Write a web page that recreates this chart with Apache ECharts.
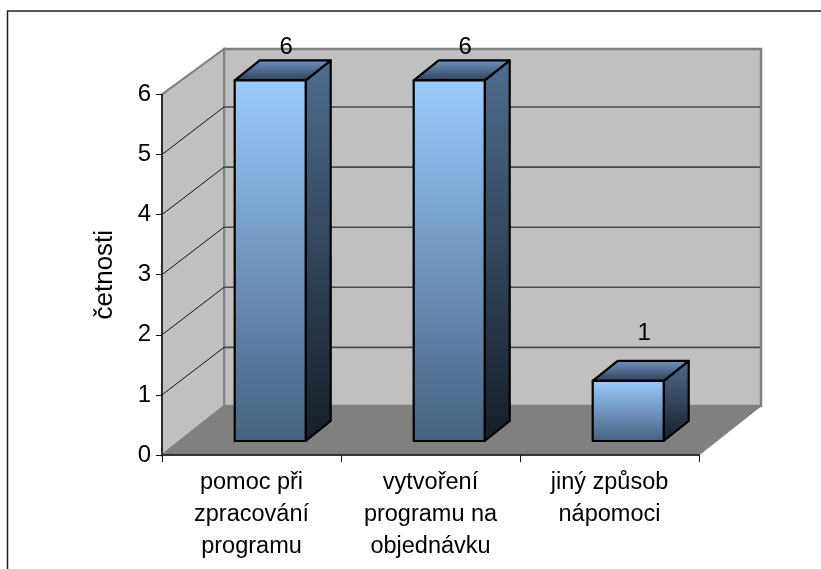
<!DOCTYPE html>
<html>
<head>
<meta charset="utf-8">
<script src="https://cdn.jsdelivr.net/npm/echarts@6/dist/echarts.min.js"></script>
<style>html,body{margin:0;padding:0;background:#fff}#c{width:821px;height:569px}</style>
</head>
<body>
<div id="c"></div>
<script>
const categories = ['pomoc při\nzpracování\nprogramu', 'vytvoření\nprogramu na\nobjednávku', 'jiný způsob\nnápomoci'];
const values = [6, 6, 1];
const gridValues = [1, 2, 3, 4, 5];
const axisTitle = 'četnosti';

const FONT = '"Liberation Sans", Arial, sans-serif';
const FS = 24;
const G = echarts.graphic;
const chart = echarts.init(document.getElementById('c'), null, {renderer: 'canvas'});

function grad(a, b) {
  return new G.LinearGradient(0, 0, 0, 1, [{offset: 0, color: a}, {offset: 1, color: b}]);
}

function poly(points, style) {
  return {type: 'polygon', shape: {points: points}, style: style};
}

function renderWalls(params, api) {
  const cs = params.coordSys;
  const l = cs.x, r = cs.x + cs.width, t = cs.y, b = cs.y + cs.height;
  const dx = 62, dt = 45.5, db = 49;
  return {type: 'group', children: [
    poly([[l + dx, t - dt], [r + dx, t - dt], [r + dx, b - db], [l + dx, b - db]],
      {fill: '#c0c0c0', stroke: '#808080', lineWidth: 2.5}),
    poly([[l, t], [l + dx, t - dt], [l + dx, b - db], [l, b]],
      {fill: '#c0c0c0', stroke: '#808080', lineWidth: 2}),
    poly([[l, b], [l + dx, b - db], [r + dx, b - db], [r, b]],
      {fill: '#808080', stroke: '#808080', lineWidth: 1})
  ]};
}

function renderGrid(params, api) {
  const cs = params.coordSys;
  const y = api.coord([0, api.value(0)])[1];
  const l = cs.x, dx = 62, dy = 47.5;
  return {type: 'group', children: [
    {type: 'line', shape: {x1: l, y1: y, x2: l + dx, y2: y - dy}, style: {stroke: '#111', lineWidth: 1}},
    {type: 'line', shape: {x1: l + dx, y1: y - dy, x2: cs.x + cs.width + dx - 1, y2: y - dy}, style: {stroke: '#4a4a4a', lineWidth: 1.6}}
  ]};
}

function renderBars(params, api) {
  const i = api.value(0), v = api.value(1);
  const base = api.coord([i, 0]), top = api.coord([i, v]);
  const shift = 18.7, half = 35.5, lift = 14, ox = 25, oy = 20;
  const cx = base[0] + shift;
  const x0 = cx - half, x1 = cx + half;
  const yb = base[1] - lift, yt = top[1] - lift;
  const edge = {stroke: '#000', lineWidth: 2.2, lineJoin: 'round'};
  const st = (fill) => Object.assign({fill: fill}, edge);
  return {type: 'group', children: [
    poly([[x1, yt], [x1 + ox, yt - oy], [x1 + ox, yb - oy], [x1, yb]], st(grad('#4f6d8d', '#161e28'))),
    poly([[x0, yt], [x0 + ox, yt - oy], [x1 + ox, yt - oy], [x1, yt]], st(grad('#7098c6', '#2c3d52'))),
    {type: 'rect', shape: {x: x0, y: yt, width: x1 - x0, height: yb - yt}, style: st(grad('#99ccff', '#46607f'))},
    {type: 'text', style: {
      text: String(v),
      x: cx + 16,
      y: Math.max(yt - oy - 28, 47),
      textAlign: 'center', textVerticalAlign: 'middle',
      fontFamily: FONT, fontSize: FS, fill: '#000'
    }}
  ]};
}

chart.setOption({
  animation: false,
  backgroundColor: '#fff',
  graphic: [{
    type: 'polyline', silent: true, z: 0,
    shape: {points: [[7.5, 569], [7.5, 11], [821, 11]]},
    style: {stroke: '#222', lineWidth: 1.5, fill: 'none'}
  }],
  grid: {left: 162, right: 122, top: 94.4, bottom: 114, containLabel: false},
  xAxis: {
    type: 'category', data: categories, z: 5,
    axisLine: {show: true, lineStyle: {color: '#111', width: 1.5}},
    axisTick: {show: true, alignWithLabel: false, length: 7, lineStyle: {color: '#111', width: 1}},
    splitLine: {show: false},
    axisLabel: {show: true, interval: 0, margin: 12, color: '#000', fontFamily: FONT, fontSize: 23.5, lineHeight: 32}
  },
  yAxis: {
    type: 'value', min: 0, max: 6, interval: 1, z: 5,
    name: axisTitle, nameLocation: 'middle', nameRotate: 90, nameGap: 44.5, nameMoveOverlap: false,
    nameTextStyle: {color: '#000', fontFamily: FONT, fontSize: 26},
    axisLine: {show: true, lineStyle: {color: '#111', width: 1.5}},
    axisTick: {show: true, length: 6, lineStyle: {color: '#111', width: 1}},
    splitLine: {show: false},
    axisLabel: {margin: 11, color: '#000', fontFamily: FONT, fontSize: FS}
  },
  series: [
    {type: 'custom', z: 1, silent: true, clip: false, renderItem: renderWalls, data: [[0]], encode: {x: 0, y: 0}},
    {type: 'custom', z: 1, silent: true, clip: false, renderItem: renderGrid, data: gridValues.map(v => [v]), encode: {y: 0}},
    {type: 'custom', z: 2, silent: true, clip: false, renderItem: renderBars,
     data: values.map((v, i) => [i, v]), encode: {x: 0, y: 1}}
  ]
});
</script>
</body>
</html>
